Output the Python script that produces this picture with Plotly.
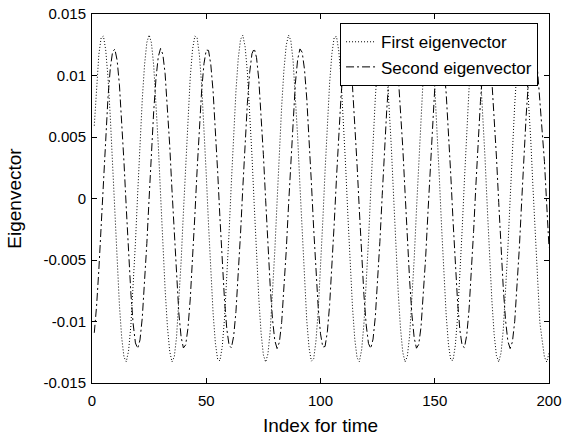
import plotly.graph_objects as go

# Index for time
index_vals = list(range(1, 201))

first_eigenvector = [
    0.00592, 0.00925, 0.01172, 0.01307, 0.01320, 0.01208, 0.00983, 0.00664, 0.00284, -0.00124,
    -0.00520, -0.00867, -0.01132, -0.01290, -0.01327, -0.01239, -0.01035, -0.00732, -0.00361, 0.00044,
    0.00445, 0.00805, 0.01088, 0.01269, 0.01330, 0.01266, 0.01083, 0.00798, 0.00437, 0.00036,
    -0.00369, -0.00740, -0.01040, -0.01242, -0.01328, -0.01288, -0.01127, -0.00860, -0.00512, -0.00115,
    0.00292, 0.00672, 0.00988, 0.01212, 0.01321, 0.01306, 0.01167, 0.00919, 0.00585, 0.00195,
    -0.00214, -0.00602, -0.00933, -0.01177, -0.01309, -0.01319, -0.01204, -0.00975, -0.00655, -0.00273,
    0.00134, 0.00529, 0.00875, 0.01137, 0.01293, 0.01327, 0.01235, 0.01028, 0.00723, 0.00351,
    -0.00055, -0.00455, -0.00813, -0.01094, -0.01272, -0.01330, -0.01263, -0.01077, -0.00789, -0.00427,
    -0.00025, 0.00379, 0.00748, 0.01046, 0.01246, 0.01328, 0.01286, 0.01122, 0.00852, 0.00502,
    0.00105, -0.00302, -0.00681, -0.00995, -0.01216, -0.01322, -0.01304, -0.01162, -0.00912, -0.00575,
    -0.00184, 0.00224, 0.00611, 0.00941, 0.01181, 0.01311, 0.01317, 0.01199, 0.00968, 0.00646,
    0.00263, -0.00145, -0.00539, -0.00882, -0.01143, -0.01295, -0.01326, -0.01231, -0.01021, -0.00715,
    -0.00341, 0.00065, 0.00465, 0.00821, 0.01100, 0.01275, 0.01330, 0.01259, 0.01070, 0.00781,
    0.00417, 0.00014, -0.00390, -0.00757, -0.01053, -0.01250, -0.01329, -0.01283, -0.01116, -0.00844,
    -0.00492, -0.00094, 0.00313, 0.00690, 0.01002, 0.01220, 0.01323, 0.01302, 0.01157, 0.00904,
    0.00565, 0.00174, -0.00234, -0.00620, -0.00948, -0.01186, -0.01313, -0.01316, -0.01194, -0.00961,
    -0.00637, -0.00252, 0.00155, 0.00549, 0.00890, 0.01148, 0.01298, 0.01325, 0.01227, 0.01014,
    0.00705, 0.00330, -0.00076, -0.00475, -0.00829, -0.01106, -0.01278, -0.01329, -0.01256, -0.01064,
    -0.00772, -0.00407, -0.00004, 0.00400, 0.00766, 0.01059, 0.01253, 0.01329, 0.01280, 0.01110,
    0.00836, 0.00482, 0.00084, -0.00323, -0.00699, -0.01009, -0.01152, -0.01289, -0.01329, -0.01258,
]

second_eigenvector = [
    -0.01092, -0.00876, -0.00577, -0.00224, 0.00150, 0.00510, 0.00822, 0.01057, 0.01192, 0.01215,
    0.01123, 0.00925, 0.00641, 0.00296, -0.00077, -0.00443, -0.00767, -0.01018, -0.01174, -0.01219,
    -0.01150, -0.00971, -0.00702, -0.00366, 0.00004, 0.00374, 0.00708, 0.00976, 0.01152, 0.01220,
    0.01172, 0.01014, 0.00761, 0.00435, 0.00069, -0.00303, -0.00647, -0.00931, -0.01126, -0.01215,
    -0.01190, -0.01053, -0.00816, -0.00503, -0.00142, 0.00232, 0.00584, 0.00882, 0.01096, 0.01207,
    0.01204, 0.01088, 0.00869, 0.00569, 0.00215, -0.00160, -0.00519, -0.00829, -0.01062, -0.01194,
    -0.01214, -0.01119, -0.00919, -0.00633, -0.00286, 0.00087, 0.00452, 0.00774, 0.01024, 0.01177,
    0.01219, 0.01146, 0.00966, 0.00694, 0.00357, -0.00014, -0.00383, -0.00716, -0.00982, -0.01155,
    -0.01220, -0.01169, -0.01009, -0.00753, -0.00426, -0.00060, 0.00313, 0.00656, 0.00937, 0.01130,
    0.01216, 0.01188, 0.01048, 0.00809, 0.00494, 0.00133, -0.00241, -0.00593, -0.00888, -0.01100,
    -0.01208, -0.01203, -0.01084, -0.00863, -0.00560, -0.00205, 0.00169, 0.00528, 0.00836, 0.01066,
    0.01196, 0.01213, 0.01115, 0.00913, 0.00624, 0.00277, -0.00096, -0.00461, -0.00782, -0.01029,
    -0.01179, -0.01219, -0.01143, -0.00960, -0.00686, -0.00348, 0.00023, 0.00392, 0.00724, 0.00988,
    0.01158, 0.01220, 0.01167, 0.01003, 0.00745, 0.00417, 0.00050, -0.00322, -0.00664, -0.00943,
    -0.01133, -0.01217, -0.01186, -0.01043, -0.00802, -0.00485, -0.00123, 0.00251, 0.00601, 0.00895,
    0.01104, 0.01210, 0.01201, 0.01079, 0.00856, 0.00552, 0.00196, -0.00179, -0.00537, -0.00844,
    -0.01071, -0.01198, -0.01212, -0.01111, -0.00906, -0.00616, -0.00267, 0.00106, 0.00470, 0.00789,
    0.01034, 0.01182, 0.01218, 0.01139, 0.00954, 0.00678, 0.00338, -0.00033, -0.00401, -0.00732,
    -0.00993, -0.01161, -0.01220, -0.01164, -0.00998, -0.00738, -0.00408, -0.00040, 0.00331, 0.00672,
    0.00949, 0.01137, 0.01218, 0.01184, 0.01038, 0.00795, 0.00610, 0.00302, -0.00050, -0.00397,
]

x_tick_vals = [0, 50, 100, 150, 200]
x_tick_text = ["0", "50", "100", "150", "200"]
y_tick_vals = [-0.015, -0.01, -0.005, 0, 0.005, 0.01, 0.015]
y_tick_text = ["-0.015", "-0.01", "-0.005", "0", "0.005", "0.01", "0.015"]

FONT = "Liberation Sans, Arial, Helvetica, sans-serif"

fig = go.Figure()
fig.add_trace(go.Scatter(
    x=index_vals, y=first_eigenvector, mode="lines", name="First eigenvector",
    line=dict(color="black", width=1, dash="1px,2px"),
))
fig.add_trace(go.Scatter(
    x=index_vals, y=second_eigenvector, mode="lines", name="Second eigenvector",
    line=dict(color="black", width=1, dash="8px,3px,2px,3px"),
))

axis_common = dict(
    showline=True, linecolor="black", linewidth=1, mirror="ticks",
    ticks="inside", ticklen=5, tickcolor="black", tickwidth=1,
    showgrid=False, zeroline=False, automargin=False,
    tickfont=dict(family=FONT, size=15, color="black"),
)

fig.update_layout(
    width=562, height=436,
    margin=dict(l=92, r=13, t=14, b=53),
    paper_bgcolor="white", plot_bgcolor="white",
    font=dict(family=FONT, color="black"),
    showlegend=True,
    legend=dict(
        x=0.976, y=0.975, xanchor="right", yanchor="top",
        bgcolor="white", bordercolor="black", borderwidth=1,
        font=dict(family=FONT, size=17, color="black"),
        tracegroupgap=0,
    ),
    xaxis=dict(
        range=[0, 200], tickvals=x_tick_vals, ticktext=x_tick_text,
        ticklabelstandoff=4,
        title=dict(text="Index for time", font=dict(family=FONT, size=19, color="black"), standoff=10),
        **axis_common,
    ),
    yaxis=dict(
        range=[-0.015, 0.015], tickvals=y_tick_vals, ticktext=y_tick_text,
        ticklabelstandoff=2,
        title=dict(text="Eigenvector", font=dict(family=FONT, size=19, color="black"), standoff=16),
        **axis_common,
    ),
)

fig.write_html("out.html")
